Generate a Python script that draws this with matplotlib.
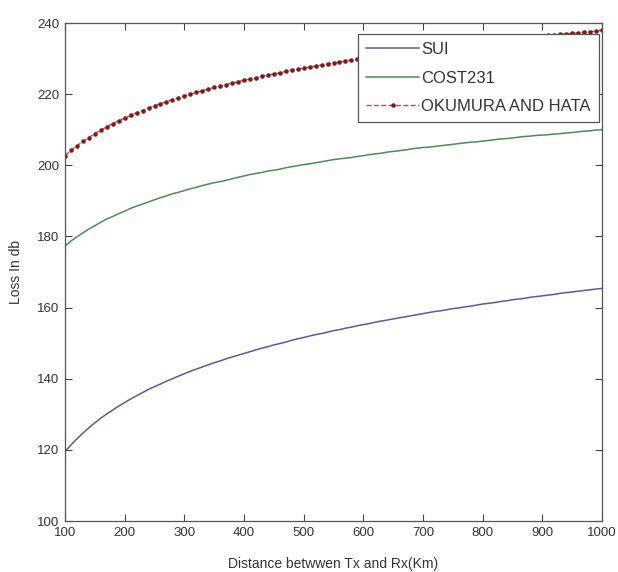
import matplotlib
matplotlib.use("Agg")
import matplotlib.pyplot as plt

plt.rcParams['font.family'] = ['Liberation Sans Narrow', 'Liberation Sans', 'DejaVu Sans']

distance_km = list(range(100, 1001, 10))

sui = [119.5, 121.4, 123.1, 124.7, 126.2, 127.6, 128.9, 130.1, 131.2, 132.3,
       133.3, 134.3, 135.2, 136.1, 137.0, 137.8, 138.5, 139.3, 140.0, 140.7,
       141.4, 142.1, 142.7, 143.3, 143.9, 144.5, 145.0, 145.6, 146.1, 146.6,
       147.1, 147.6, 148.1, 148.6, 149.0, 149.5, 149.9, 150.3, 150.8, 151.2,
       151.6, 152.0, 152.4, 152.7, 153.1, 153.5, 153.8, 154.2, 154.5, 154.9,
       155.2, 155.5, 155.9, 156.2, 156.5, 156.8, 157.1, 157.4, 157.7, 158.0,
       158.3, 158.6, 158.9, 159.1, 159.4, 159.7, 159.9, 160.2, 160.4, 160.7,
       161.0, 161.2, 161.4, 161.7, 161.9, 162.2, 162.4, 162.6, 162.9, 163.1,
       163.3, 163.5, 163.7, 164.0, 164.2, 164.4, 164.6, 164.8, 165.0, 165.2,
       165.4]

cost231 = [177.3, 178.7, 179.9, 181.0, 182.1, 183.0, 184.0, 184.9, 185.6, 186.4,
           187.1, 187.9, 188.5, 189.1, 189.7, 190.3, 190.9, 191.4, 192.0, 192.4,
           192.9, 193.4, 193.8, 194.3, 194.7, 195.1, 195.4, 195.8, 196.2, 196.6,
           197.0, 197.4, 197.7, 198.0, 198.4, 198.6, 198.9, 199.3, 199.6, 199.9,
           200.2, 200.4, 200.7, 201.0, 201.3, 201.6, 201.8, 202.0, 202.2, 202.5,
           202.7, 203.0, 203.2, 203.4, 203.7, 203.9, 204.1, 204.3, 204.6, 204.8,
           205.0, 205.1, 205.3, 205.5, 205.7, 205.9, 206.1, 206.3, 206.5, 206.6,
           206.8, 207.0, 207.2, 207.4, 207.5, 207.7, 207.9, 208.1, 208.2, 208.4,
           208.5, 208.6, 208.8, 208.9, 209.1, 209.2, 209.4, 209.6, 209.7, 209.9,
           210.0]

okumura_hata = [202.7, 204.2, 205.5, 206.7, 207.8, 208.9, 209.9, 210.8, 211.7, 212.5,
                213.3, 214.0, 214.8, 215.4, 216.1, 216.7, 217.3, 217.9, 218.4, 219.0,
                219.5, 220.0, 220.5, 221.0, 221.4, 221.9, 222.3, 222.7, 223.1, 223.5,
                223.9, 224.3, 224.6, 225.0, 225.4, 225.7, 226.0, 226.4, 226.7, 227.0,
                227.3, 227.6, 227.9, 228.2, 228.5, 228.8, 229.0, 229.3, 229.6, 229.8,
                230.1, 230.3, 230.6, 230.8, 231.1, 231.3, 231.5, 231.8, 232.0, 232.2,
                232.4, 232.7, 232.9, 233.1, 233.3, 233.5, 233.7, 233.9, 234.1, 234.3,
                234.5, 234.7, 234.9, 235.1, 235.2, 235.4, 235.6, 235.8, 235.9, 236.1,
                236.3, 236.5, 236.6, 236.8, 237.0, 237.1, 237.3, 237.4, 237.6, 237.7,
                237.9]

series_labels = ['SUI', 'COST231', 'OKUMURA AND HATA']
x_ticks = [100, 200, 300, 400, 500, 600, 700, 800, 900, 1000]
y_ticks = [100, 120, 140, 160, 180, 200, 220, 240]

fig = plt.figure(figsize=(6.18, 5.72), dpi=100)
ax = fig.add_axes([65 / 618, 1 - 521 / 572, (602 - 65) / 618, (521 - 23) / 572])

ax.plot(distance_km, sui, color='#5a5a9e', lw=1.1, label=series_labels[0])
ax.plot(distance_km, cost231, color='#4f8a58', lw=1.1, label=series_labels[1])
ax.plot(distance_km, okumura_hata, color='#e03a3a', lw=1.0, ls='--',
        marker='.', markersize=4.5, markerfacecolor='#7a1c1c',
        markeredgecolor='#7a1c1c', label=series_labels[2])

ax.set_xlim(100, 1000)
ax.set_ylim(100, 240)
ax.set_xticks(x_ticks)
ax.set_yticks(y_ticks)
ax.tick_params(direction='in', length=5, width=0.8, top=True, right=True,
               labelsize=9.5, colors='#444444', labelcolor='#333333', pad=4)
for sp in ax.spines.values():
    sp.set_color('#555555')
    sp.set_linewidth(0.9)

ax.set_xlabel('Distance betwwen Tx and Rx(Km)', fontsize=10, color='#333333', labelpad=13)
ax.set_ylabel('Loss In db', fontsize=10, color='#333333', labelpad=10)

leg = ax.legend(loc='upper right', bbox_to_anchor=(0.994, 0.978), fontsize=12,
                frameon=True, fancybox=False, framealpha=1.0, numpoints=1,
                handlelength=3.2, handletextpad=0.1,
                borderpad=0.5, labelspacing=0.8, borderaxespad=0.0)
leg.get_frame().set_edgecolor('#555555')
leg.get_frame().set_linewidth(0.9)
for t in leg.get_texts():
    t.set_color('#333333')

fig.savefig('out.png', dpi=100)
